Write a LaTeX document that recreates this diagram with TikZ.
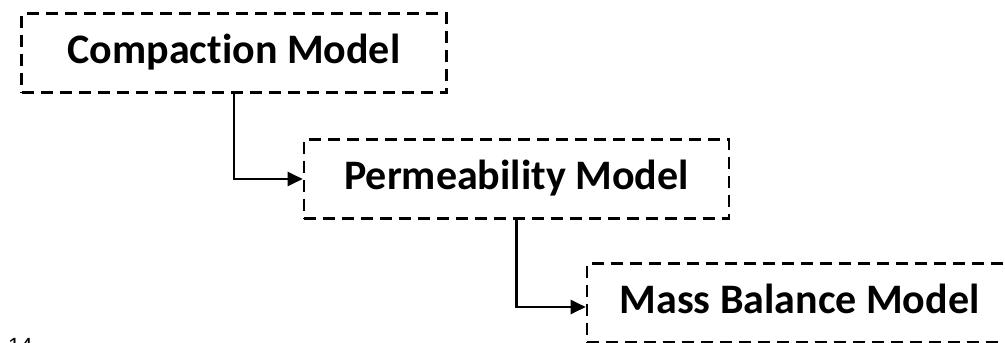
\documentclass[tikz,border=0pt]{standalone}
\usepackage{fontspec}
\setmainfont{Carlito}[Ligatures=NoCommon]
\newfontfamily\pagefont{Liberation Sans}
\usetikzlibrary{arrows.meta}
\begin{document}
\begin{tikzpicture}[x=1pt,y=-1pt,
  modelbox/.style={draw=black, line width=2.6pt, dash pattern=on 12pt off 7pt,
    minimum width=425pt, minimum height=79pt, inner sep=0pt,
    font=\fontsize{42}{48}\selectfont\bfseries, text height=31.5pt, text depth=10.5pt},
  flow/.style={draw=black, line width=2.2pt, -{Triangle[length=15pt,width=14pt]}}]
\useasboundingbox (0,0) rectangle (1005,343);
\clip (0,0) rectangle (1005,343);
\node[modelbox] (b1) at (234,53) {Compaction Model};
\node[modelbox] (b2) at (516.5,179) {Permeability Model};
\node[modelbox] (b3) at (799.5,303) {Mass Balance Model};
\draw[flow] (b1.south) |- (b2.west);
\draw[flow] (b2.south) |- ([yshift=-4pt]b3.west);
\node[anchor=base west, inner sep=0pt, font=\pagefont\fontsize{22}{26}\selectfont] (pg) at (8,353) {14};
\end{tikzpicture}
\end{document}
